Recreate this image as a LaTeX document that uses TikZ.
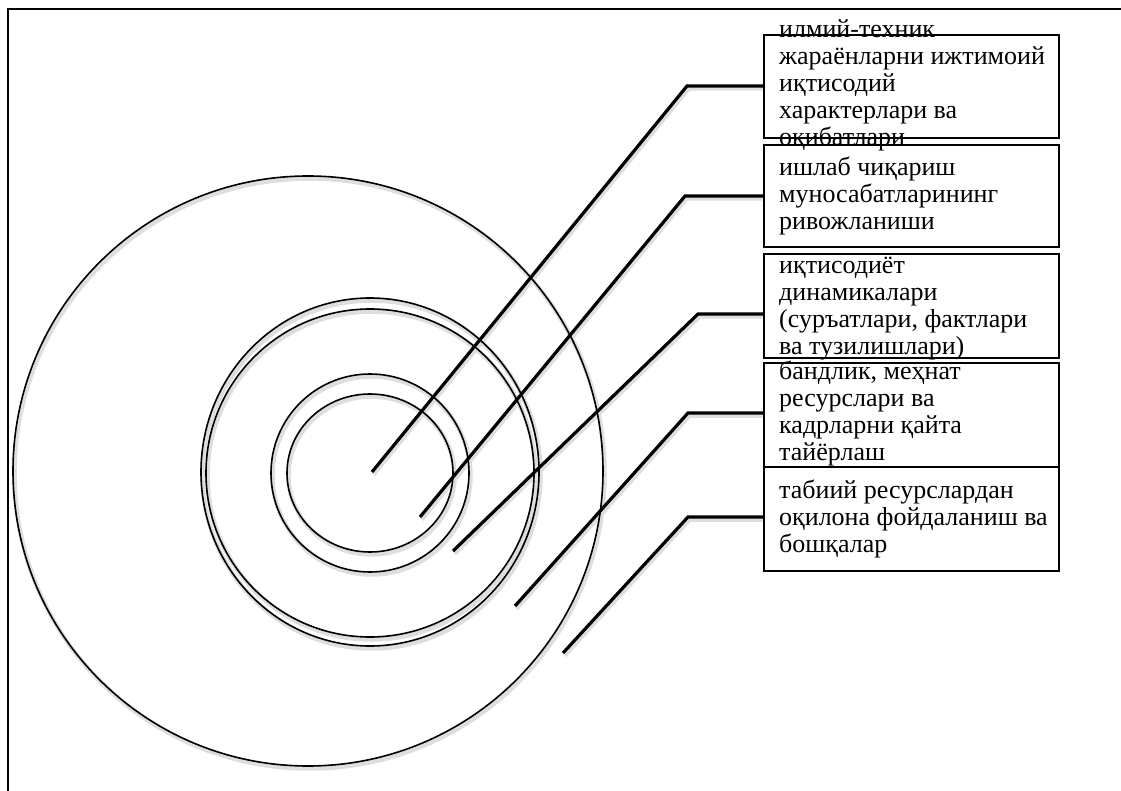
\documentclass[tikz,border=0pt]{standalone}
\usepackage{fontspec}
\setmainfont{Liberation Serif}
\begin{document}
\begin{tikzpicture}[x=1pt,y=-1pt,
  ring/.style={line width=1.6pt},
  conn/.style={line width=3.2pt},
  shadowline/.style={draw=black!13, line width=4.5pt},
  boxnode/.style={draw, line width=2pt, inner sep=0pt, anchor=north west, minimum width=295pt},
  lbl/.style={anchor=base west, inner sep=0pt, align=left, font=\fontsize{26}{27}\selectfont}]
\path[use as bounding box, fill=white] (0,0) rectangle (1121,791);
% frame
\draw[line width=2pt] (1121,9) -- (8,9) -- (8,791);
% free ends and bends of connectors
\coordinate (p1) at (372,472); \coordinate (k1) at (687,86);
\coordinate (p2) at (420,517); \coordinate (k2) at (685,196);
\coordinate (p3) at (453,551); \coordinate (k3) at (698,314);
\coordinate (p4) at (515,606); \coordinate (k4) at (688,413);
\coordinate (p5) at (563,653); \coordinate (k5) at (688,517);
% shadows
\begin{scope}[transform canvas={shift={(1.5pt,-2.5pt)}}]
  \draw[shadowline] (308,471) circle [radius=295pt];
  \draw[shadowline] (370,472) ellipse [x radius=169pt, y radius=174pt];
  \draw[shadowline] (370,473) circle [radius=164pt];
  \draw[shadowline] (370,473) circle [radius=99pt];
  \draw[shadowline] (370,473) ellipse [x radius=83pt, y radius=79pt];
  \draw[shadowline] (p1) -- (k1) -- (763,86);
  \draw[shadowline] (p2) -- (k2) -- (763,196);
  \draw[shadowline] (p3) -- (k3) -- (763,314);
  \draw[shadowline] (p4) -- (k4) -- (763,413);
  \draw[shadowline] (p5) -- (k5) -- (763,517);
\end{scope}
% circles
\draw[ring] (308,471) circle [radius=295pt];
\draw[ring] (370,472) ellipse [x radius=169pt, y radius=174pt];
\draw[ring] (370,473) circle [radius=164pt];
\draw[ring] (370,473) circle [radius=99pt];
\draw[ring] (370,473) ellipse [x radius=83pt, y radius=79pt];
% boxes
\node[boxnode, minimum height=103pt] (b1) at (763,34) {};
\node[boxnode, minimum height=102pt] (b2) at (763,144) {};
\node[boxnode, minimum height=104pt] (b3) at (763,253) {};
\node[boxnode, minimum height=104pt] (b4) at (763,362) {};
\node[boxnode, minimum height=104pt] (b5) at (763,466) {};
% texts (anchored at the baseline of their last line)
\node[lbl] (t1) at (779,146) {илмий-техник\\жараёнларни ижтимоий\\иқтисодий\\характерлари ва\\оқибатлари};
\node[lbl] (t2) at (779,230) {ишлаб чиқариш\\муносабатларининг\\ривожланиши};
\node[lbl] (t3) at (779,354) {иқтисодиёт\\динамикалари\\(суръатлари, фактлари\\ва тузилишлари)};
\node[lbl] (t4) at (779,460) {бандлик, меҳнат\\ресурслари ва\\кадрларни қайта\\тайёрлаш};
\node[lbl] (t5) at (779,552) {табиий ресурслардан\\оқилона фойдаланиш ва\\бошқалар};
% connectors
\draw[conn] (p1) -- (k1) -- (b1.west |- k1);
\draw[conn] (p2) -- (k2) -- (b2.west |- k2);
\draw[conn] (p3) -- (k3) -- (b3.west |- k3);
\draw[conn] (p4) -- (k4) -- (b4.west |- k4);
\draw[conn] (p5) -- (k5) -- (b5.west |- k5);
\end{tikzpicture}
\end{document}
